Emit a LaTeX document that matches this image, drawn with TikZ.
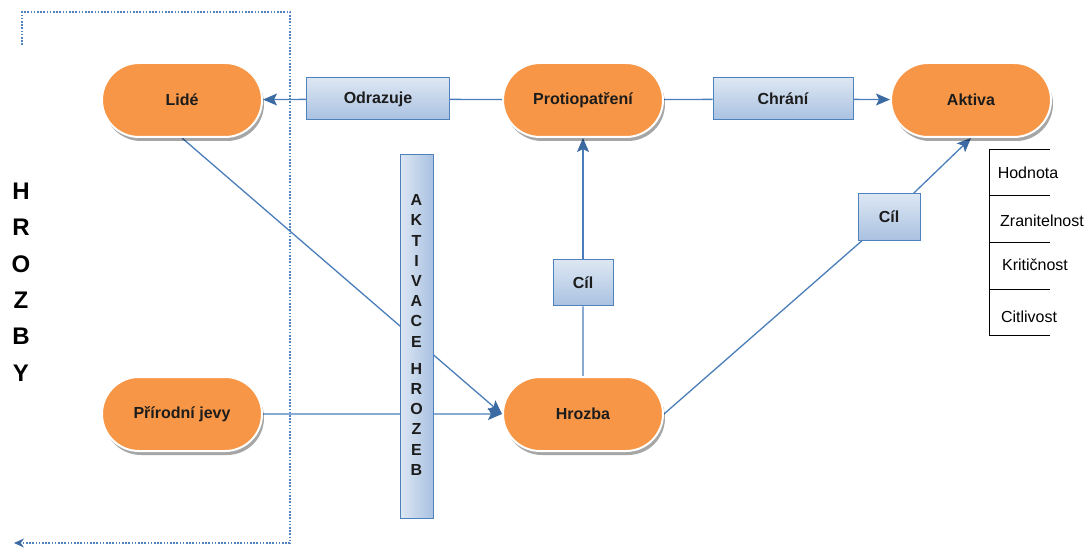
\documentclass[tikz,border=0pt]{standalone}
\usepackage{fontspec}
\setmainfont{Liberation Sans}
\usetikzlibrary{shapes.misc,shadows,arrows.meta,backgrounds}

\definecolor{pillorange}{HTML}{F79646}
\definecolor{linkblue}{HTML}{4A7EBB}
\definecolor{tipblue}{HTML}{3C6AA2}
\definecolor{boxedge}{HTML}{4F81BD}
\definecolor{boxtop}{HTML}{DDE7F3}
\definecolor{boxbottom}{HTML}{A9C1E1}
\definecolor{txt}{HTML}{1C1C1C}

\tikzset{
  pill/.style={rounded rectangle, minimum width=160pt, minimum height=74pt,
    inner sep=0pt, fill=pillorange, draw=white, line width=2pt,
    drop shadow={shadow xshift=2pt, shadow yshift=-4pt, fill=black, opacity=0.35},
    text=txt, font=\fontsize{16}{19}\selectfont\bfseries},
  tag/.style={rectangle, draw=boxedge, line width=1pt, top color=boxtop,
    bottom color=boxbottom, inner sep=0pt, text=txt,
    font=\fontsize{16}{19}\selectfont\bfseries},
  conn/.style={draw=linkblue, line width=1.3pt},
  arr/.style={conn, -{Stealth[length=14pt,width=12pt,inset=3pt,color=tipblue]}},
  cell/.style={draw=black, line width=1pt},
  celltext/.style={text=black, font=\fontsize{16}{19}\selectfont},
  bracket/.style={draw=boxedge, line width=1.1pt, dash pattern=on 1.6pt off 1.6pt}
}

\begin{document}
\begin{tikzpicture}[x=1pt,y=-1pt]
\useasboundingbox (0,0) rectangle (1088,548);

% main elements
\node[pill] (lide) at (182,100) {Lidé};
\node[pill] (prot) at (583,100) {Protiopatření};
\node[pill] (akt)  at (971,100) {Aktiva};
\node[pill] (prir) at (182,414) {Přírodní jevy};
\node[pill] (hroz) at (583,414) {Hrozba};

% relation labels
\node[tag, minimum width=143pt, minimum height=42pt] (odr) at (378,99) {Odrazuje};
\node[tag, minimum width=140pt, minimum height=42pt] (chr) at (783,99) {Chrání};
\node[tag, minimum width=60pt, minimum height=46pt] (cila) at (583,283) {Cíl};
\node[tag, minimum width=62pt, minimum height=47pt] (cilb) at (889,217) {Cíl};

% vertical activation bar
\node[rectangle, draw=boxedge, line width=1pt, left color=boxtop, right color=boxbottom,
      minimum width=33pt, minimum height=363pt, inner sep=0pt] (bar) at (416.5,336.5) {};
\node[text=txt, font=\fontsize{16}{20.2}\selectfont\bfseries, align=center] (bartext) at (416.5,335)
  {A\\K\\T\\I\\V\\A\\C\\E\\[7pt]H\\R\\O\\Z\\E\\B};

% side caption
\node[text=black, font=\fontsize{24}{36.4}\selectfont\bfseries, align=center] (hrozby) at (21,282)
  {H\\R\\O\\Z\\B\\Y};

% connectors, kept behind the boxes
\begin{scope}[on background layer]
  \draw[conn] (prot) -- (odr);
  \draw[arr] (odr) -- (lide);
  \draw[conn] (prot) -- (chr);
  \draw[arr] (chr) -- (akt);
  \draw[arr] (lide.south) -- (hroz.west);
  \draw[arr] (prir) -- (hroz);
  \draw[conn] (hroz) -- (cila);
  \draw[arr] (cila) -- (prot);
  \draw[conn] (hroz.east) -- (cilb);
  \draw[arr] (cilb) -- (akt.south);
\end{scope}

% dotted bracket around the threat sources
\coordinate (brA) at (22,45);
\coordinate (brB) at (22,12);
\coordinate (brC) at (290,12);
\coordinate (brD) at (290,543);
\coordinate (brE) at (14,543);
\draw[bracket, -{Stealth[length=10pt,width=9pt,color=tipblue]}]
  (brA) -- (brB) -- (brC) -- (brD) -- (brE);

% attribute list of assets
\coordinate (t0) at (989,150);
\coordinate (t4) at (989,336);
\draw[cell] (t0) -- (t4);
\foreach \y in {150,196,243,290,336} \draw[cell] (989,\y) -- (1050,\y);
\node[celltext] (hodn) at (1028,173) {Hodnota};
\node[celltext] (zran) at (1042,221) {Zranitelnost};
\node[celltext] (krit) at (1035,265) {Kritičnost};
\node[celltext] (citl) at (1029,317) {Citlivost};
\end{tikzpicture}
\end{document}
